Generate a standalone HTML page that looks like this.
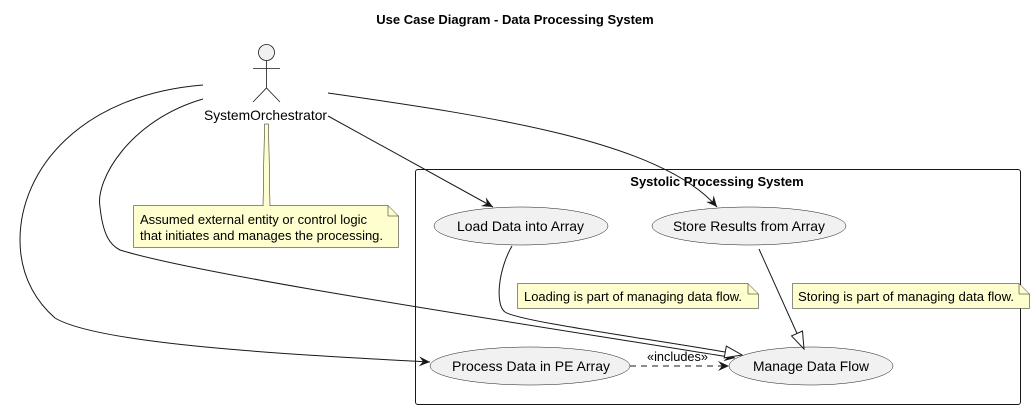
<!DOCTYPE html>
<html><head><meta charset="utf-8"><style>
html,body{margin:0;padding:0;background:#fff;}
svg{display:block;font-family:"Liberation Sans",Arial,sans-serif;}
</style></head><body>
<svg width="1031" height="409" viewBox="0 0 1031 409" xmlns="http://www.w3.org/2000/svg">
<defs>
<marker id="a" markerWidth="12" markerHeight="10" refX="11" refY="5" orient="auto" markerUnits="userSpaceOnUse">
<path d="M0,0 L11,5 L0,10 L4,5 Z" fill="#181818"/>
</marker>
<marker id="t" markerWidth="20" markerHeight="14" refX="18" refY="7" orient="auto" markerUnits="userSpaceOnUse">
<path d="M1,1 L18,7 L1,13 Z" fill="#fff" stroke="#181818" stroke-width="1"/>
</marker>
</defs>
<text x="515" y="24" text-anchor="middle" font-size="13" font-weight="bold" fill="#000">Use Case Diagram - Data Processing System</text>

<rect x="415.5" y="169.5" width="605" height="235" rx="2.5" fill="none" stroke="#181818" stroke-width="1"/>
<text x="717" y="186" text-anchor="middle" font-size="13" font-weight="bold">Systolic Processing System</text>

<circle cx="266.5" cy="52.5" r="8" fill="#f1f1f1" stroke="#181818" stroke-width="0.8"/>
<g stroke="#181818" stroke-width="0.8" fill="none">
<line x1="266.5" y1="60.5" x2="266.5" y2="88"/>
<line x1="253" y1="68.5" x2="280" y2="68.5"/>
<path d="M253,102 L266.5,88 L280,102"/>
</g>
<text x="204" y="120" font-size="14" textLength="123" lengthAdjust="spacingAndGlyphs">SystemOrchestrator</text>

<path d="M264.5,124 L268.5,124 L270,205.5 L263,205.5 Z" fill="#fefece" stroke="#181818" stroke-width="0.5"/>
<path d="M133.5,205.5 L388,205.5 L398.5,216 L398.5,247.5 L133.5,247.5 Z" fill="#fefece" stroke="#181818" stroke-width="0.5"/>
<path d="M388,205.5 L388,216 L398.5,216" fill="none" stroke="#181818" stroke-width="0.5"/>
<rect x="263.5" y="204" width="6" height="3" fill="#fefece"/>
<text x="140" y="224" font-size="13" textLength="227" lengthAdjust="spacingAndGlyphs">Assumed external entity or control logic</text>
<text x="140" y="240" font-size="13" textLength="243" lengthAdjust="spacingAndGlyphs">that initiates and manages the processing.</text>

<path d="M517.5,283.5 L748,283.5 L758.5,294 L758.5,308.5 L517.5,308.5 Z" fill="#fefece" stroke="#181818" stroke-width="0.5"/>
<path d="M748,283.5 L748,294 L758.5,294" fill="none" stroke="#181818" stroke-width="0.5"/>
<text x="524" y="301" font-size="13" textLength="218" lengthAdjust="spacingAndGlyphs">Loading is part of managing data flow.</text>
<path d="M792.5,283.5 L1019,283.5 L1029.5,294 L1029.5,308.5 L792.5,308.5 Z" fill="#fefece" stroke="#181818" stroke-width="0.5"/>
<path d="M1019,283.5 L1019,294 L1029.5,294" fill="none" stroke="#181818" stroke-width="0.5"/>
<text x="798" y="301" font-size="13" textLength="216" lengthAdjust="spacingAndGlyphs">Storing is part of managing data flow.</text>

<g fill="#f1f1f1" stroke="#181818" stroke-width="0.5">
<ellipse cx="521" cy="226" rx="87" ry="19"/>
<ellipse cx="749" cy="226" rx="97" ry="19"/>
<ellipse cx="530" cy="366" rx="100" ry="19"/>
<ellipse cx="811" cy="366" rx="82" ry="19"/>
</g>
<g font-size="14">
<text x="457" y="231" textLength="127" lengthAdjust="spacingAndGlyphs">Load Data into Array</text>
<text x="673" y="231" textLength="152" lengthAdjust="spacingAndGlyphs">Store Results from Array</text>
<text x="452" y="371" textLength="158" lengthAdjust="spacingAndGlyphs">Process Data in PE Array</text>
<text x="753" y="371" textLength="116" lengthAdjust="spacingAndGlyphs">Manage Data Flow</text>
</g>

<g fill="none" stroke="#181818" stroke-width="1">
<path d="M328,116 L493,207" marker-end="url(#a)"/>
<path d="M328,93 C480,115 660,140 717,207" marker-end="url(#a)"/>
<path d="M203,85 C80,95 20,170 20,240 C20,280 40,305 55,318 C100,345 300,355 430,362" marker-end="url(#a)"/>
<path d="M203,99 C130,120 95,180 100,207 C103,235 110,245 120,250 C200,275 500,320 735,358" marker-end="url(#a)"/>
<path d="M512,246 C498,270 495,305 505,312 C520,322 660,340 742,355" marker-end="url(#t)"/>
<path d="M759,249 L804,349" marker-end="url(#t)"/>
<path d="M630,366 L729,366" stroke-dasharray="6,5" marker-end="url(#a)"/>
</g>
<text x="647" y="361" font-size="13" textLength="61" lengthAdjust="spacingAndGlyphs">«includes»</text>
</svg>
</body></html>
